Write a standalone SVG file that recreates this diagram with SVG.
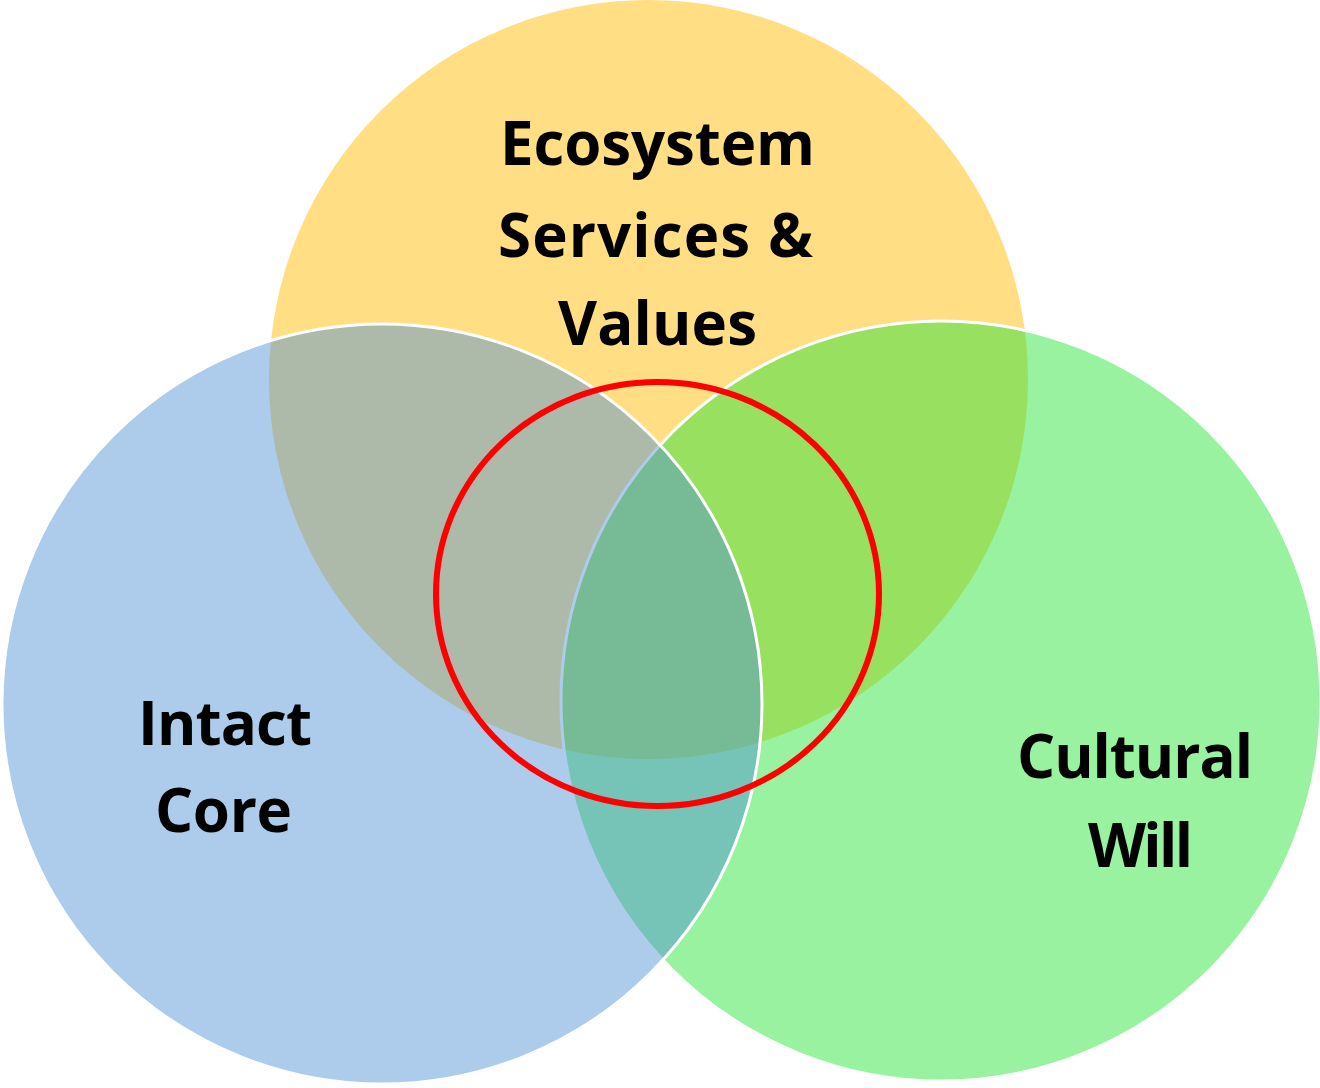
<svg xmlns="http://www.w3.org/2000/svg" width="1320" height="1088" viewBox="0 0 1320 1088">
<style>
.lbl{font-family:"Open Sans","Liberation Sans",sans-serif;font-weight:bold;font-size:60px;fill:#000;text-anchor:middle}
.circ{stroke:#fff;stroke-width:3}
</style>
<rect width="1320" height="1088" fill="#fff"/>
<g id="ecosystem">
<circle cx="648.5" cy="379.5" r="379.5" fill="#FFDE84"/>
</g>
<g id="cultural">
<circle class="circ" cx="941" cy="701" r="380" fill="rgb(36,227,53)" fill-opacity="0.47"/>
</g>
<g id="intact">
<circle class="circ" cx="382" cy="704" r="380" fill="rgb(80,144,210)" fill-opacity="0.47"/>
</g>
<g id="core">
<ellipse cx="657.5" cy="594" rx="221.5" ry="212" fill="none" stroke="#FF0000" stroke-width="6"/>
</g>
<g id="labels">
<text class="lbl" x="657.5" y="165" textLength="315">Ecosystem</text>
<text class="lbl" x="655.5" y="257" textLength="315">Services &amp;</text>
<text class="lbl" x="657.5" y="345" textLength="199">Values</text>
<text class="lbl" x="225" y="745" textLength="174">Intact</text>
<text class="lbl" x="223.5" y="832" textLength="137">Core</text>
<text class="lbl" x="1135" y="778" textLength="236">Cultural</text>
<text class="lbl" x="1140.5" y="867" textLength="105">Will</text>
</g>
<g id="connectors"/>
</svg>
